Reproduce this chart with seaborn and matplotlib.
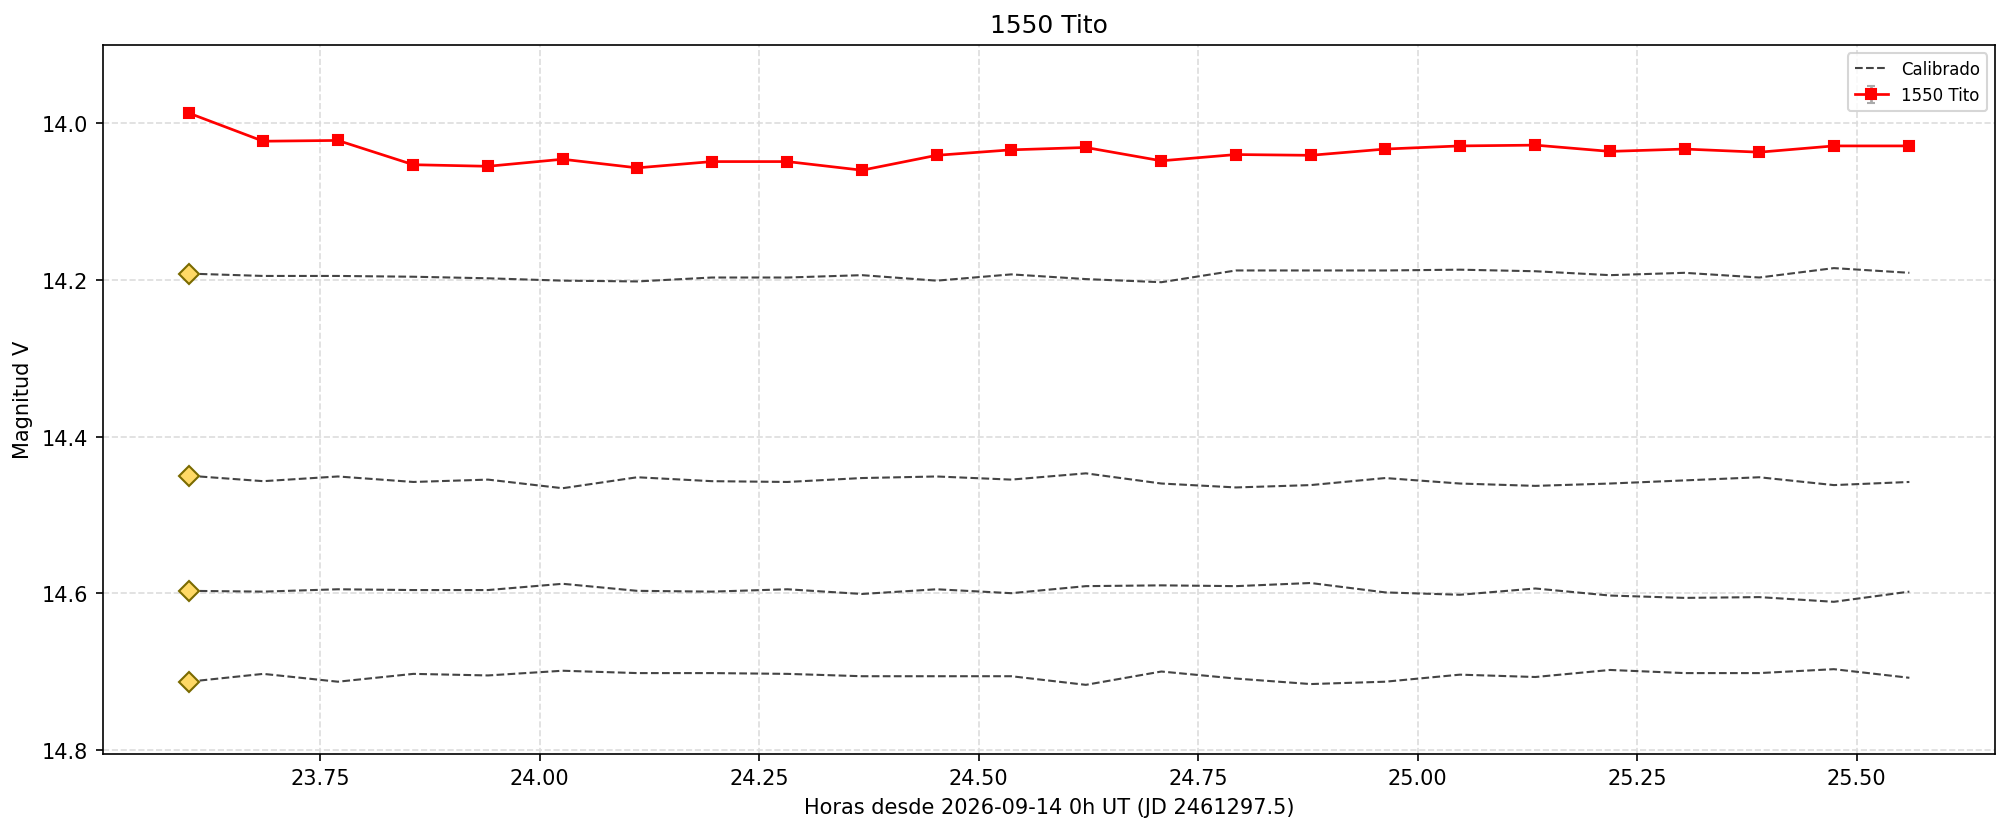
import numpy as np
import pandas as pd
import seaborn as sns
import matplotlib
matplotlib.use("Agg")
import matplotlib.pyplot as plt

horas = [23.600, 23.685, 23.770, 23.856, 23.941, 24.026, 24.111, 24.196,
         24.282, 24.367, 24.452, 24.537, 24.622, 24.708, 24.793, 24.878,
         24.963, 25.048, 25.134, 25.219, 25.304, 25.389, 25.474, 25.560]

tito = [13.987, 14.023, 14.022, 14.053, 14.055, 14.046, 14.057, 14.049,
        14.049, 14.060, 14.041, 14.034, 14.031, 14.048, 14.040, 14.041,
        14.033, 14.029, 14.028, 14.036, 14.033, 14.037, 14.029, 14.029]

cal1 = [14.192, 14.195, 14.195, 14.196, 14.198, 14.201, 14.202, 14.197,
        14.197, 14.194, 14.201, 14.193, 14.199, 14.203, 14.188, 14.188,
        14.188, 14.187, 14.189, 14.194, 14.191, 14.197, 14.185, 14.191]
cal2 = [14.450, 14.457, 14.451, 14.458, 14.455, 14.466, 14.452, 14.457,
        14.458, 14.453, 14.451, 14.455, 14.447, 14.460, 14.465, 14.462,
        14.453, 14.460, 14.463, 14.460, 14.456, 14.452, 14.462, 14.458]
cal3 = [14.597, 14.598, 14.595, 14.596, 14.596, 14.588, 14.597, 14.598,
        14.595, 14.601, 14.595, 14.600, 14.591, 14.590, 14.591, 14.587,
        14.599, 14.602, 14.594, 14.603, 14.606, 14.605, 14.611, 14.598]
cal4 = [14.713, 14.703, 14.713, 14.703, 14.705, 14.699, 14.702, 14.702,
        14.703, 14.706, 14.706, 14.706, 14.717, 14.700, 14.709, 14.716,
        14.713, 14.704, 14.707, 14.698, 14.702, 14.702, 14.697, 14.708]

fig, ax = plt.subplots(figsize=(13.41, 5.56), dpi=150)

for i, cal in enumerate([cal1, cal2, cal3, cal4]):
    df = pd.DataFrame({"x": horas, "y": cal})
    sns.lineplot(data=df, x="x", y="y", ax=ax, color="#444444", linewidth=1,
                 linestyle="--", label="Calibrado" if i == 0 else None)
    ax.plot(horas[0], cal[0], marker="D", markersize=7, color="#ffd966",
            markeredgecolor="#7a6a00", linestyle="none", zorder=5)

ax.errorbar(horas, tito, yerr=np.zeros(len(tito)), fmt="s-", color="red",
            ecolor="#aaaaaa", capsize=2, markersize=5, linewidth=1.3,
            label="1550 Tito", zorder=6)

ax.set_ylim(14.805, 13.90)
ax.set_yticks([14.0, 14.2, 14.4, 14.6, 14.8])
ax.set_xticks([23.75, 24.0, 24.25, 24.5, 24.75, 25.0, 25.25, 25.5])
ax.grid(True, linestyle="--", color="#dddddd", linewidth=0.8)
ax.set_title("1550 Tito", fontsize=12)
ax.set_xlabel("Horas desde 2026-09-14 0h UT (JD 2461297.5)")
ax.set_ylabel("Magnitud V")
ax.legend(loc="upper right", fontsize=8)

fig.subplots_adjust(left=0.051, right=0.992, top=0.945, bottom=0.095)
fig.savefig("out.png", dpi=150)
